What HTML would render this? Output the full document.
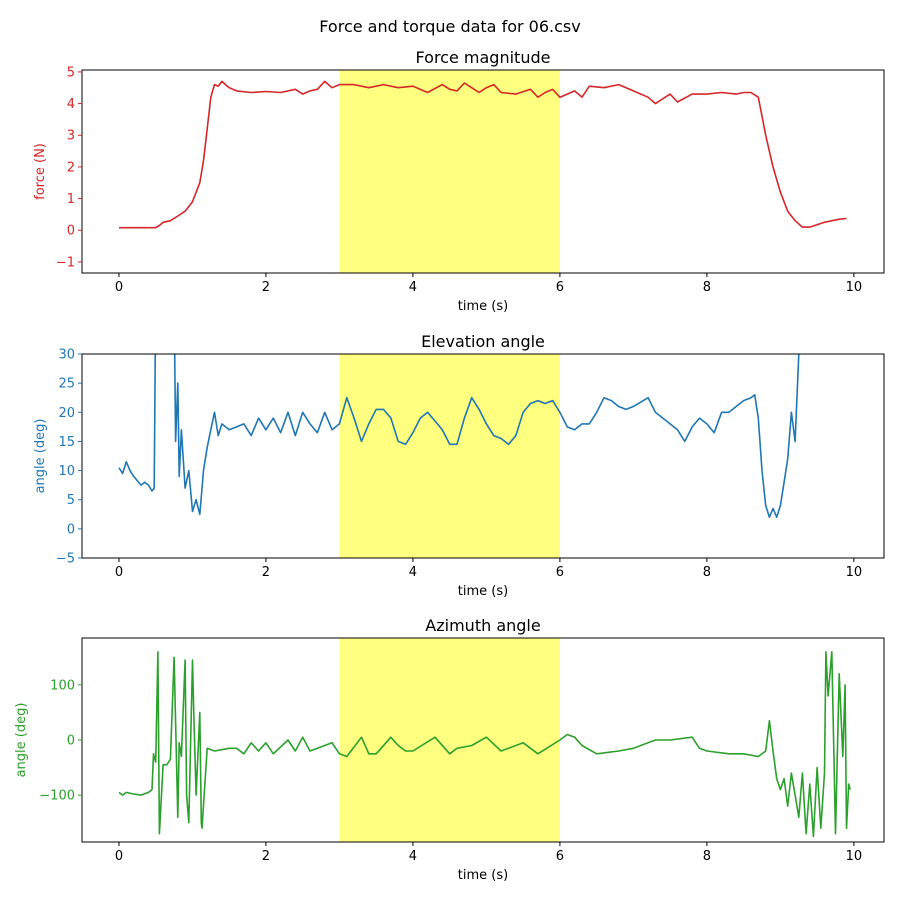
<!DOCTYPE html>
<html><head><meta charset="utf-8"><style>body{margin:0;background:#fff}svg{font-family:"DejaVu Sans","Liberation Sans",sans-serif}</style></head>
<body>
<svg id="fig" width="900" height="900" xmlns="http://www.w3.org/2000/svg">
<text x="450" y="32" text-anchor="middle" font-size="16">Force and torque data for 06.csv</text>
</svg>
<script>
const forceT=[0,0.5,0.55,0.6,0.7,0.8,0.9,1.0,1.1,1.15,1.2,1.25,1.3,1.35,1.4,1.45,1.5,1.6,1.8,2.0,2.2,2.4,2.5,2.6,2.7,2.8,2.9,3.0,3.2,3.4,3.6,3.8,4.0,4.2,4.4,4.5,4.6,4.7,4.8,4.9,5.0,5.1,5.2,5.4,5.6,5.7,5.8,5.9,6.0,6.1,6.2,6.3,6.4,6.6,6.8,7.0,7.2,7.3,7.5,7.6,7.8,8.0,8.2,8.4,8.5,8.6,8.7,8.8,8.9,9.0,9.1,9.2,9.3,9.4,9.6,9.8,9.9];
const forceV=[0.08,0.08,0.15,0.25,0.3,0.45,0.6,0.9,1.5,2.2,3.2,4.2,4.6,4.55,4.7,4.6,4.5,4.4,4.35,4.38,4.35,4.45,4.3,4.4,4.45,4.7,4.5,4.6,4.6,4.5,4.6,4.5,4.55,4.35,4.6,4.45,4.4,4.65,4.5,4.35,4.5,4.6,4.35,4.3,4.45,4.2,4.35,4.45,4.2,4.3,4.4,4.2,4.55,4.5,4.6,4.4,4.2,4.0,4.3,4.05,4.3,4.3,4.35,4.3,4.35,4.35,4.2,3.0,2.0,1.2,0.6,0.3,0.1,0.1,0.25,0.35,0.37];
const elevT=[0,0.05,0.1,0.15,0.2,0.3,0.35,0.4,0.45,0.48,0.5,0.75,0.77,0.8,0.82,0.85,0.9,0.95,1.0,1.05,1.1,1.15,1.2,1.25,1.3,1.35,1.4,1.5,1.6,1.7,1.8,1.9,2.0,2.1,2.2,2.3,2.4,2.5,2.6,2.7,2.8,2.9,3.0,3.1,3.2,3.3,3.4,3.5,3.6,3.7,3.8,3.9,4.0,4.1,4.2,4.3,4.4,4.5,4.6,4.7,4.8,4.9,5.0,5.1,5.2,5.3,5.4,5.5,5.6,5.7,5.8,5.9,6.0,6.1,6.2,6.3,6.4,6.5,6.6,6.7,6.8,6.9,7.0,7.2,7.3,7.5,7.6,7.7,7.8,7.9,8.0,8.1,8.2,8.3,8.5,8.6,8.65,8.7,8.75,8.8,8.85,8.9,8.95,9.0,9.05,9.1,9.15,9.2,9.25,9.3];
const elevV=[10.5,9.5,11.5,10,9,7.5,8,7.5,6.5,7,40,40,15,25,9,17,7,10,3,5,2.5,10,14,17,20,16,18,17,17.5,18,16,19,17,19,16.5,20,16,20,18,16.5,20,17,18,22.5,19,15,18,20.5,20.5,19,15,14.5,16.5,19,20,18.5,17,14.5,14.5,19,22.5,20.5,18,16,15.5,14.5,16,20,21.5,22,21.5,22,20,17.5,17,18,18,20,22.5,22,21,20.5,21,22.5,20,18,17,15,17.5,19,18,16.5,20,20,22,22.5,23,19,10,4,2,3.5,2,4,8,12,20,15,30,40];
const azT=[0,0.05,0.1,0.2,0.3,0.4,0.45,0.47,0.5,0.53,0.55,0.6,0.65,0.7,0.75,0.8,0.82,0.85,0.9,0.92,0.95,1.0,1.02,1.05,1.1,1.12,1.13,1.2,1.3,1.5,1.6,1.7,1.8,1.9,2.0,2.1,2.3,2.4,2.5,2.6,2.8,2.9,3.0,3.1,3.3,3.4,3.5,3.7,3.8,3.9,4.0,4.3,4.5,4.6,4.8,5.0,5.2,5.5,5.7,6.0,6.1,6.2,6.3,6.5,6.8,7.0,7.3,7.5,7.8,7.9,8.0,8.3,8.5,8.7,8.8,8.85,8.9,8.95,9.0,9.05,9.1,9.15,9.2,9.25,9.3,9.35,9.4,9.45,9.5,9.55,9.6,9.62,9.65,9.7,9.75,9.8,9.85,9.88,9.9,9.93,9.95];
const azV=[-95,-100,-95,-98,-100,-95,-90,-25,-40,160,-170,-45,-45,-35,150,-140,-5,-30,145,-100,-150,145,40,-100,50,-150,-160,-15,-20,-15,-15,-25,-5,-20,-5,-25,0,-20,5,-20,-10,-5,-25,-30,5,-25,-25,5,-10,-20,-20,5,-25,-15,-10,5,-20,-5,-25,0,10,5,-10,-25,-20,-15,0,0,5,-15,-20,-25,-25,-30,-20,35,-20,-70,-90,-70,-120,-60,-100,-140,-60,-170,-80,-175,-50,-160,-60,160,80,160,-170,120,-30,100,-160,-80,-90];
const xTicks=[0,2,4,6,8,10];
const forceTicks=[-1,0,1,2,3,4,5];
const elevTicks=[-5,0,5,10,15,20,25,30];
const azTicks=[-100,0,100];
const azTickLabels=["\u2212100","0","100"];

const NS="http://www.w3.org/2000/svg";
const svg=document.getElementById('fig');
function mk(tag,attrs,parent){const e=document.createElementNS(NS,tag);for(const k in attrs)e.setAttribute(k,attrs[k]);(parent||svg).appendChild(e);return e;}
const L=82,R=884;
function xs(t){return L+(t+0.503)/(10.41+0.503)*(R-L);}
function panel(id,top,bot,ymin,ymax,T,V,color,ticks,labels,title,ylabel){
  const ys=v=>bot-(v-ymin)/(ymax-ymin)*(bot-top);
  const g=mk('g',{});
  
  
  mk('clipPath',{id:id+'clip'},g).appendChild(Object.assign(document.createElementNS(NS,'rect'),{}));
  const cr=g.querySelector('clipPath rect');cr.setAttribute('x',L);cr.setAttribute('y',top);cr.setAttribute('width',R-L);cr.setAttribute('height',bot-top);
  const span=mk('rect',{x:xs(3),y:top,width:xs(6)-xs(3),height:bot-top,fill:'#ffff80'},g);
  
  
  let d='';T.forEach((t,i)=>{d+=(i?'L':'M')+xs(t).toFixed(1)+','+ys(V[i]).toFixed(1);});
  const p=mk('path',{d:d,fill:'none',stroke:color,'stroke-width':1.6,'clip-path':'url(#'+id+'clip)','stroke-linejoin':'round'},g);
  
  
  const fr=mk('rect',{x:L,y:top,width:R-L,height:bot-top,fill:'none',stroke:'#000','stroke-width':1},g);
  
  
  xTicks.forEach(t=>{const x=xs(t);mk('line',{x1:x,x2:x,y1:bot,y2:bot+4,stroke:'#000'},g);
    const tx=mk('text',{x:x,y:bot+18,'text-anchor':'middle','font-size':13},g);tx.textContent=t;
    
    });
  ticks.forEach((v,i)=>{const y=ys(v);mk('line',{x1:L-4,x2:L,y1:y,y2:y,stroke:color},g);
    const tx=mk('text',{x:L-7,y:y+4.5,'text-anchor':'end','font-size':13,fill:color},g);tx.textContent=labels[i];
    
    });
  const ti=mk('text',{x:(L+R)/2,y:top-7,'text-anchor':'middle','font-size':16},g);ti.textContent=title;
  
  
  const xl=mk('text',{x:(L+R)/2,y:bot+37,'text-anchor':'middle','font-size':13},g);xl.textContent='time (s)';
  
  
  const cy=(top+bot)/2;
  const yl=mk('text',{x:0,y:0,'text-anchor':'middle','font-size':13,fill:color,transform:'translate('+(id==='azimuth'?25:44)+','+cy+') rotate(-90)'},g);yl.textContent=ylabel;
  
  
}
panel('force',70,273,-1.35,5.06,forceT,forceV,'#d62728',forceTicks,forceTicks.map(v=>v<0?'\u2212'+(-v):''+v),'Force magnitude','force (N)');
panel('elevation',354,558,-5,30,elevT,elevV,'#1f77b4',elevTicks,elevTicks.map(v=>v<0?'\u2212'+(-v):''+v),'Elevation angle','angle (deg)');
panel('azimuth',638,842,-185,185,azT,azV,'#2ca02c',azTicks,azTickLabels,'Azimuth angle','angle (deg)');
</script>
</body></html>
